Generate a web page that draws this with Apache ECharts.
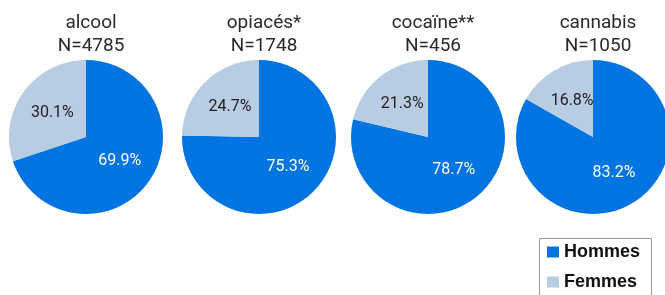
<!DOCTYPE html>
<html>
<head>
<meta charset="utf-8">
<script src="https://cdn.jsdelivr.net/npm/echarts@6/dist/echarts.min.js"></script>
<style>
  html, body { margin: 0; padding: 0; background: #fff; }
  #chart { width: 665px; height: 295px; }
</style>
</head>
<body>
<div id="chart"></div>
<script>
  const substances = ['alcool', 'opiacés*', 'cocaïne**', 'cannabis'];
  const totals = [4785, 1748, 456, 1050];
  const hommes = [69.9, 75.3, 78.7, 83.2];
  const femmes = [30.1, 24.7, 21.3, 16.8];
  const groups = ['Hommes', 'Femmes'];

  const centersX = [86, 259, 428, 593];
  const centerY = 137;
  const colors = { Hommes: '#0074E0', Femmes: '#B8CCE4' };
  const labelColors = { Hommes: '#ffffff', Femmes: '#222222' };

  const chart = echarts.init(document.getElementById('chart'));

  const titles = substances.map((s, i) => ({
    text: s + '\nN=' + totals[i],
    left: centersX[i],
    top: 7,
    textAlign: 'center',
    textStyle: {
      fontFamily: 'Roboto',
      fontWeight: 'normal',
      fontSize: 19,
      lineHeight: 23,
      color: '#2a2a2a',
    },
  }));

  const series = substances.map((s, i) => ({
    type: 'pie',
    name: s,
    center: [centersX[i], centerY],
    radius: [0, 77],
    startAngle: 90,
    clockwise: true,
    silent: true,
    label: {
      show: true,
      position: 'inside',
      fontFamily: 'Roboto',
      fontSize: 16,
      formatter: (p) => p.value.toFixed(1) + '%',
    },
    labelLine: { show: false },
    itemStyle: { borderWidth: 0 },
    data: [
      { name: groups[0], value: hommes[i], itemStyle: { color: colors.Hommes }, label: { color: labelColors.Hommes } },
      { name: groups[1], value: femmes[i], itemStyle: { color: colors.Femmes }, label: { color: labelColors.Femmes } },
    ],
  }));

  chart.setOption({
    animation: false,
    title: titles,
    legend: {
      data: groups,
      orient: 'vertical',
      left: 539,
      top: 238,
      icon: 'rect',
      itemWidth: 12,
      itemHeight: 11,
      itemGap: 12,
      padding: [5, 10, 0, 8],
      textStyle: {
        fontFamily: 'Liberation Sans',
        fontWeight: 'bold',
        fontSize: 18,
        color: '#111',
      },
    },
    graphic: [{
      type: 'rect',
      silent: true,
      shape: { x: 539.5, y: 238.5, width: 112, height: 70 },
      style: { fill: 'none', stroke: '#999', lineWidth: 1 },
    }],
    series: series,
  });
</script>
</body>
</html>
